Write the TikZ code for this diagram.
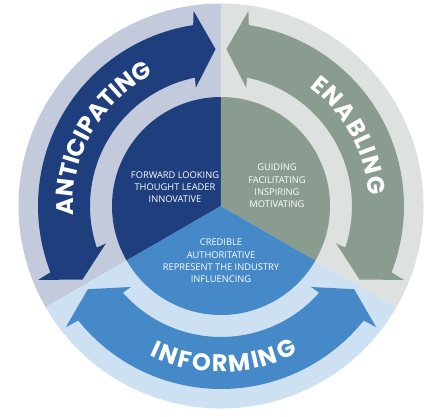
\documentclass[tikz,border=0pt]{standalone}
\usepackage{fontspec}
\usepackage{xcolor}
\usepackage{tikz}
\usetikzlibrary{decorations.text}

\newfontfamily\labelfont{Poppins}
\newfontfamily\centrefont{Open Sans}

\definecolor{anticipblue}{HTML}{1F3E7D}
\definecolor{enablgrey}{HTML}{8A9B8F}
\definecolor{informblue}{HTML}{4589C8}
\definecolor{anticiplight}{HTML}{C3CADC}
\definecolor{enabllight}{HTML}{DDE1E0}
\definecolor{informlight}{HTML}{CDE1F2}

\begin{document}
\begin{tikzpicture}[
    x=1pt, y=1pt,
    sector text/.style={text=white, align=center, inner sep=0pt,
      font=\centrefont\fontsize{9.3}{12.3}\selectfont},
    arc label/.style={decorate,
      font=\labelfont\bfseries\fontsize{24}{24}\selectfont,
      decoration={text effects along path, text effects/.cd,
        text along path, fit text to path,
        characters={text=white, inner sep=0pt,
          font=\labelfont\bfseries\fontsize{24}{24}\selectfont}}},
  ]

  \useasboundingbox (-221,-211) rectangle (219,206);

  % outer ring
  \fill[anticiplight] (0,0) -- (90:202.5) arc[start angle=90, end angle=210, radius=202.5] -- cycle;
  \fill[informlight] (0,0) -- (210:202.5) arc[start angle=210, end angle=330, radius=202.5] -- cycle;
  \fill[enabllight] (0,0) -- (-30:202.5) arc[start angle=-30, end angle=90, radius=202.5] -- cycle;

  % inner disc
  \fill[anticipblue] (0,0) -- (90:109) arc[start angle=90, end angle=210, radius=109] -- cycle;
  \fill[informblue] (0,0) -- (210:109) arc[start angle=210, end angle=330, radius=109] -- cycle;
  \fill[enablgrey] (0,0) -- (-30:109) arc[start angle=-30, end angle=90, radius=109] -- cycle;

  % arrows
  \fill[anticipblue] (92:157) -- (98:197) -- (98.74:183)
    arc[start angle=98.74, end angle=201.26, radius=183]
    -- (202:197) -- (208:157) -- (198:121) -- (198.53:131)
    arc[start angle=198.53, end angle=101.47, radius=131]
    -- (102:121) -- cycle;
  \fill[informblue] (212:157) -- (218:197) -- (218.74:183)
    arc[start angle=218.74, end angle=321.26, radius=183]
    -- (322:197) -- (328:157) -- (318:121) -- (318.53:131)
    arc[start angle=318.53, end angle=221.47, radius=131]
    -- (222:121) -- cycle;
  \fill[enablgrey] (-28:157) -- (-22:197) -- (-21.26:183)
    arc[start angle=-21.26, end angle=81.26, radius=183]
    -- (82:197) -- (88:157) -- (78:121) -- (78.53:131)
    arc[start angle=78.53, end angle=-18.53, radius=131]
    -- (-18:121) -- cycle;

  % arrow labels
  \path[arc label, decoration={text={ANTICIPATING}}]
    (183.5:148) arc[start angle=183.5, end angle=117, radius=148];
  \path[arc label, decoration={text={ENABLING}}]
    (53.4:148) arc[start angle=53.4, end angle=4.1, radius=148];
  \path[arc label, decoration={text={INFORMING}}]
    (244.6:166) arc[start angle=244.6, end angle=297.5, radius=166];

  % sector texts
  \node[sector text] (anticiptext) at (-46,19) {FORWARD LOOKING\\THOUGHT LEADER\\INNOVATIVE};
  \node[sector text] (enabltext) at (56,20) {GUIDING\\FACILITATING\\INSPIRING\\MOTIVATING};
  \node[sector text] (informtext) at (0,-55) {CREDIBLE\\AUTHORITATIVE\\REPRESENT THE INDUSTRY\\INFLUENCING};

\end{tikzpicture}
\end{document}
